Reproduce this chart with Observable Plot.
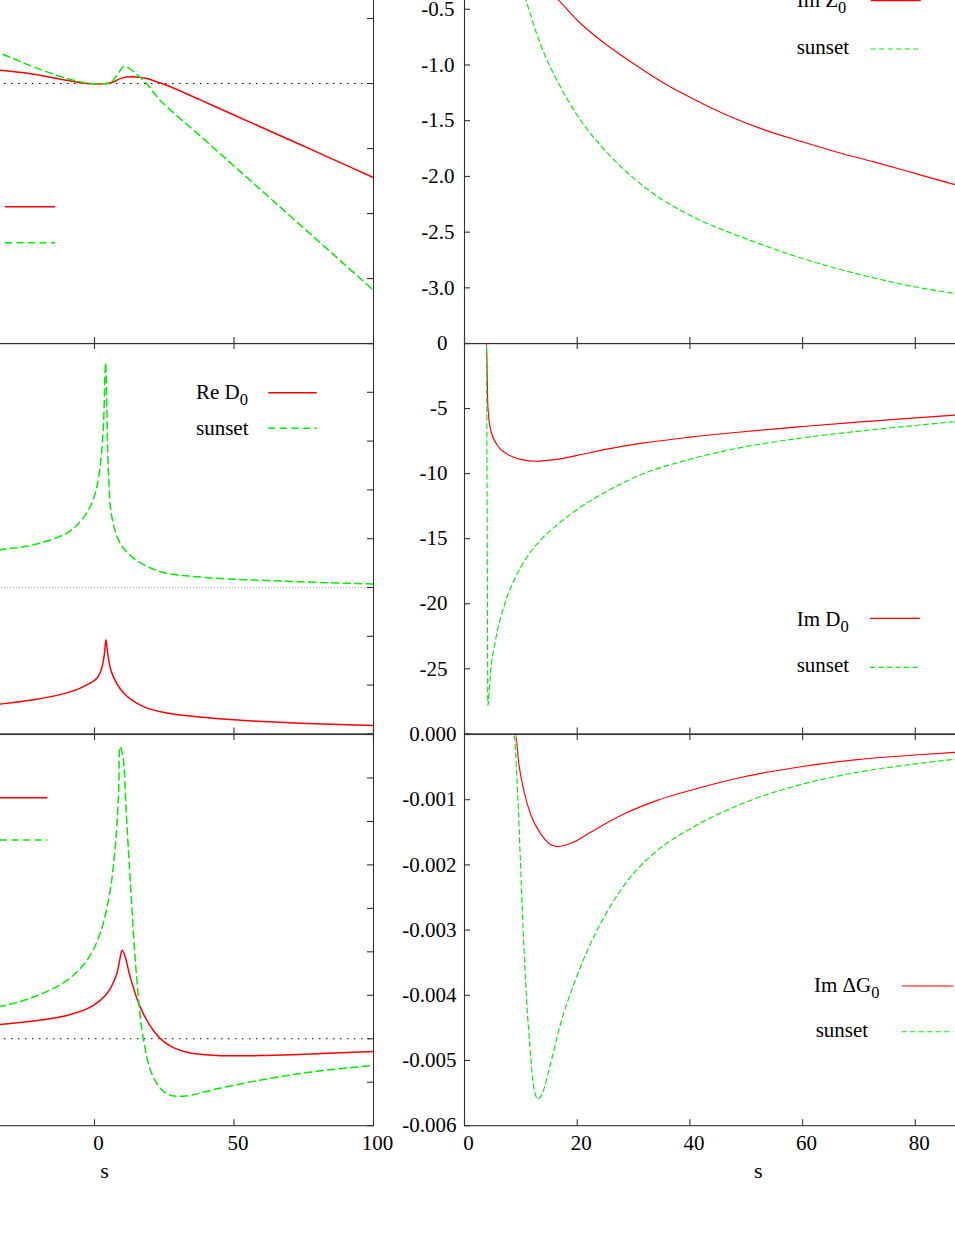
<!DOCTYPE html>
<html><head><meta charset="utf-8">
<script src="https://cdn.jsdelivr.net/npm/d3@7"></script>
<script src="https://cdn.jsdelivr.net/npm/@observablehq/plot@0.6"></script>
<style>
html,body{margin:0;padding:0;background:#fff;}
#fig{position:relative;width:955px;height:1236px;overflow:hidden;background:#fff;}
#fig svg{position:absolute;}
</style></head><body><div id="fig"></div>
<script>
// ---------- data ----------
const xAxisTitle = "s";
// Row 1 left: Re Z0 and sunset
const reZ0S = [-100, -66, -33.8, -21.9, -9.9, -2.7, 4.4, 6.8, 9.2, 11.6, 15.2, 18.8, 22.4, 25.9, 37.9, 50, 61.8, 73.7, 85.7, 100];
const reZ0V = [0.26, 0.18, 0.102, 0.072, 0.025, 0, 0, 0.012, 0.038, 0.051, 0.051, 0.038, 0.012, -0.013, -0.126, -0.242, -0.355, -0.469, -0.585, -0.723];
const reZ0SunS = [-100, -66, -33.8, -21.9, -9.9, -5.1, -1.5, 4.4, 5.6, 8.0, 10.4, 12.2, 15.2, 18.8, 23.5, 37.9, 50.1, 61.8, 73.7, 85.7, 100];
const reZ0SunV = [0.65, 0.45, 0.231, 0.128, 0.038, 0.013, 0, 0, 0.005, 0.06, 0.13, 0.12, 0.07, -0.003, -0.128, -0.403, -0.636, -0.859, -1.087, -1.316, -1.59];
// Row 1 right: Im Z0 and sunset
const imZ0S = [0, 3.9, 8, 11.5, 14.2, 16.7, 20, 24.9, 30.2, 35.4, 40, 46.6, 53.1, 60, 66.3, 72.8, 80.1, 87.1, 100];
const imZ0V = [0, 0, -0.03, -0.16, -0.29, -0.419, -0.599, -0.808, -0.995, -1.165, -1.29, -1.451, -1.58, -1.69, -1.785, -1.872, -1.975, -2.075, -2.22];
const imZ0SunS = [0, 3.9, 7, 9, 10.1, 11.1, 12.4, 14.4, 16.4, 20, 23.6, 27.5, 33.5, 40, 49.9, 60, 69.5, 80.1, 87.1, 100];
const imZ0SunV = [0, 0, -0.03, -0.17, -0.29, -0.449, -0.659, -0.928, -1.137, -1.451, -1.691, -1.90, -2.154, -2.349, -2.558, -2.737, -2.872, -2.992, -3.051, -3.15];
// Row 2 left: Re D0 and sunset
const reD0S = [-100, -66, -33.8, -21.9, -9.9, -3.9, 0.86, 2.6, 3.6, 4.1, 4.7, 6.2, 10.4, 17.6, 25.9, 49.8, 73.7, 100];
const reD0V = [-26.8, -25.8, -23.9, -23.0, -21.6, -20.3, -18.6, -16.5, -13.4, -10.7, -13.4, -17.5, -21.6, -24.4, -25.7, -27.1, -27.8, -28.3];
const reD0SunS = [-100, -66, -33.8, -21.9, -9.9, -5.1, -1.5, 0.86, 2.4, 3.24, 3.96, 4.4, 5.0, 6.2, 9.2, 14.0, 23.5, 37.9, 61.8, 100];
const reD0SunV = [4.3, 5.5, 7.73, 8.75, 11.15, 13.52, 16.6, 20.7, 26.8, 33.7, 46.0, 37.1, 23.4, 14.5, 9.1, 6.0, 3.28, 2.13, 1.43, 0.7];
// Row 2 right: Im D0 and sunset
const imD0S = [0, 3.9, 4.02, 4.14, 4.61, 5.8, 7.57, 9.94, 12.9, 16.4, 20, 25.3, 31.2, 40, 49, 60, 69.7, 80, 87.1, 100];
const imD0V = [0, 0, -2.3, -4.8, -6.6, -7.8, -8.5, -8.9, -9.05, -8.9, -8.6, -8.12, -7.68, -7.2, -6.8, -6.38, -6.04, -5.72, -5.5, -5.15];
const imD0SunS = [0, 3.9, 3.98, 4.06, 4.14, 4.61, 5.5, 7.0, 8.8, 11.1, 13.5, 16.4, 20, 25.3, 31.2, 40, 49, 60, 69.7, 80, 87.1, 100];
const imD0SunV = [0, 0, -9, -18.5, -27.8, -25.3, -22.8, -20.2, -18.2, -16.4, -15.1, -13.95, -12.75, -11.35, -10.1, -8.9, -8.0, -7.25, -6.75, -6.3, -6.0, -5.6];
// Row 3 left: Re ΔG0 and sunset
const reG0S = [-100, -66, -33.8, -21.9, -9.9, -1.5, 4.4, 8.0, 9.0, 9.9, 11.0, 12.8, 16.4, 21.1, 25.9, 33.1, 43.9, 61.8, 79.7, 100];
const reG0V = [0.13, 0.2, 0.33, 0.406, 0.537, 0.728, 1.037, 1.498, 1.804, 2.035, 1.88, 1.419, 0.728, 0.191, -0.115, -0.309, -0.385, -0.385, -0.346, -0.293];
const reG0SunS = [-100, -66, -33.8, -21.9, -9.9, -2.7, 2.0, 5.6, 7.4, 8.6, 9.2, 10.2, 11.4, 12.8, 15.2, 17.6, 21.1, 25.9, 31.9, 43.9, 61.8, 79.7, 100];
const reG0SunV = [0.32, 0.45, 0.744, 0.959, 1.343, 1.804, 2.419, 3.41, 4.41, 5.57, 6.72, 6.49, 5.18, 3.65, 1.34, -0.04, -0.885, -1.267, -1.32, -1.152, -0.922, -0.747, -0.615];
// Row 3 right: Im ΔG0 and sunset
const imG0S = [0, 9.05, 9.64, 10.53, 11.71, 13.49, 16.45, 19.4, 22.36, 28.27, 34.2, 40, 49, 60, 69.7, 80, 87.1, 100];
const imG0V = [0, 0, -0.00045, -0.00086, -0.00122, -0.00152, -0.00172, -0.00165, -0.0015, -0.00122, -0.00101, -0.00086, -0.00066, -0.00049, -0.000385, -0.000315, -0.000275, -0.00023];
const imG0SunS = [0, 8.75, 9.46, 9.94, 10.41, 11.0, 11.71, 12.3, 13.0, 13.78, 15.26, 17.04, 19.4, 22.36, 25.3, 28.87, 34.2, 40, 49, 60, 69.7, 80, 87.1, 100];
const imG0SunV = [0, 0, -0.00096, -0.00198, -0.00301, -0.00403, -0.0049, -0.00541, -0.00559, -0.00551, -0.00505, -0.00444, -0.00383, -0.00321, -0.00272, -0.00225, -0.00178, -0.00145, -0.00107, -0.00076, -0.00058, -0.00045, -0.00038, -0.0003];

// tick values
const xTicksLeft = [-100, -50, 0, 50, 100];
const xTicksRight = [0, 20, 40, 60, 80, 100];
const xLabelsLeft = [0, 50, 100];
const xLabelsRight = [0, 20, 40, 60, 80];
const yTicksZre = [-2, -1.5, -1, -0.5, 0, 0.5, 1];
const yTicksZim = [-3.5, -3, -2.5, -2, -1.5, -1, -0.5, 0];
const yLabelsZim = [-0.5, -1, -1.5, -2, -2.5, -3];
const yTicksDre = [-30, -20, -10, 0, 10, 20, 30, 40, 50];
const yTicksDim = [-30, -25, -20, -15, -10, -5, 0];
const yLabelsDim = [0, -5, -10, -15, -20, -25];
const yTicksGre = [-2, -1, 0, 1, 2, 3, 4, 5, 6, 7];
const yTicksGim = [-0.006, -0.005, -0.004, -0.003, -0.002, -0.001, 0];
const yLabelsGim = [0, -0.001, -0.002, -0.003, -0.004, -0.005, -0.006];

// ---------- layout / style ----------
const RED = "#ff0000", GREEN = "#00ee00", AXIS = "#333";
const FONT = '"Liberation Serif", "DejaVu Serif", serif';
const rows = [{y0: -46.7, ih: 390.1}, {y0: 343.4, ih: 390.4}, {y0: 733.8, ih: 391.2}];
const cols = [
  {x0: -184.7, iw: 558, mL: 5, mR: 45, xDomain: [-100, 100], xTicks: xTicksLeft, xLabels: xLabelsLeft, sw: 1.5, dash: "7,4.5", sdx: 10, curve: "catmull-rom"},
  {x0: 464, iw: 563.5, mL: 90, mR: 10, xDomain: [0, 100], xTicks: xTicksRight, xLabels: xLabelsRight, sw: 1.15, dash: "5,3.5", sdx: 12, curve: "monotone-x"}
];
const fig = document.getElementById("fig");
const toRows = (s, v) => s.map((x, i) => ({s: x, v: v[i]}));

function drawPanel(p) {
  const C = cols[p.col], R = rows[p.row];
  const mT = 10, mB = p.row === 2 ? 80 : 10;
  const marks = [];
  if (p.zero) marks.push(Plot.ruleY([0], {stroke: p.zero.stroke, strokeDasharray: p.zero.dash, strokeWidth: 1}));
  for (const sr of p.series) {
    const o = {x: "s", y: "v", stroke: sr.color, strokeWidth: C.sw, curve: C.curve, clip: true};
    if (sr.dashed) o.strokeDasharray = C.dash;
    marks.push(Plot.line(toRows(sr.s, sr.v), o));
  }
  marks.push(Plot.frame({stroke: AXIS, strokeWidth: 1.1}));
  marks.push(Plot.tickX(C.xTicks, {insetTop: R.ih - 6, stroke: AXIS, strokeWidth: 1.1}));
  marks.push(Plot.tickX(C.xTicks, {insetBottom: R.ih - 6, stroke: AXIS, strokeWidth: 1.1}));
  marks.push(Plot.tickY(p.yTicks, {insetRight: C.iw - 6, stroke: AXIS, strokeWidth: 1.1}));
  marks.push(Plot.tickY(p.yTicks, {insetLeft: C.iw - 6, stroke: AXIS, strokeWidth: 1.1}));
  if (p.yLabels) marks.push(Plot.axisY(p.yLabels, {anchor: "left", tickSize: 0, tickPadding: p.yPad, tickFormat: p.yFmt, label: null}));
  if (p.row === 2) {
    marks.push(Plot.axisX(C.xLabels, {anchor: "bottom", tickSize: 0, tickPadding: 9, dx: 4, tickFormat: d => String(d), label: null}));
    marks.push(Plot.text([xAxisTitle], {frameAnchor: "bottom", dy: 52, dx: C.sdx, fontSize: 22}));
  }
  const svg = Plot.plot({
    width: C.mL + C.iw + C.mR, height: mT + R.ih + mB,
    marginLeft: C.mL, marginRight: C.mR, marginTop: mT, marginBottom: mB,
    x: {domain: C.xDomain, axis: null}, y: {domain: p.yDomain, axis: null},
    style: {background: "transparent", fontFamily: FONT, fontSize: "21px", overflow: "visible", maxWidth: "none", color: "black"},
    marks
  });
  svg.style.position = "absolute";
  svg.style.left = (C.x0 - C.mL) + "px";
  svg.style.top = (R.y0 - mT) + "px";
  fig.appendChild(svg);
}

const f1 = d => d.toFixed(1), f0 = d => String(d), f3 = d => d.toFixed(3);
drawPanel({col: 0, row: 0, yDomain: [-2, 1], yTicks: yTicksZre, zero: {stroke: "black", dash: "1.5,5.5"},
  series: [{s: reZ0S, v: reZ0V, color: RED}, {s: reZ0SunS, v: reZ0SunV, color: GREEN, dashed: true}]});
drawPanel({col: 1, row: 0, yDomain: [-3.5, 0], yTicks: yTicksZim, yLabels: yLabelsZim, yFmt: f1, yPad: 10,
  series: [{s: imZ0S, v: imZ0V, color: RED}, {s: imZ0SunS, v: imZ0SunV, color: GREEN, dashed: true}]});
drawPanel({col: 0, row: 1, yDomain: [-30, 50], yTicks: yTicksDre, zero: {stroke: "#aaa", dash: "1,2"},
  series: [{s: reD0S, v: reD0V, color: RED}, {s: reD0SunS, v: reD0SunV, color: GREEN, dashed: true}]});
drawPanel({col: 1, row: 1, yDomain: [-30, 0], yTicks: yTicksDim, yLabels: yLabelsDim, yFmt: f0, yPad: 17,
  series: [{s: imD0S, v: imD0V, color: RED}, {s: imD0SunS, v: imD0SunV, color: GREEN, dashed: true}]});
drawPanel({col: 0, row: 2, yDomain: [-2, 7], yTicks: yTicksGre, zero: {stroke: "black", dash: "1.5,5.5"},
  series: [{s: reG0S, v: reG0V, color: RED}, {s: reG0SunS, v: reG0SunV, color: GREEN, dashed: true}]});
drawPanel({col: 1, row: 2, yDomain: [-0.006, 0], yTicks: yTicksGim, yLabels: yLabelsGim, yFmt: f3, yPad: 8,
  series: [{s: imG0S, v: imG0V, color: RED}, {s: imG0SunS, v: imG0SunV, color: GREEN, dashed: true}]});

// ---------- legends ----------
const lg = d3.select(fig).append("svg").attr("width", 955).attr("height", 1236)
  .style("left", "0px").style("top", "0px").style("font-family", FONT).style("font-size", "21px");
function entry(tx, base, label, sub, lx1, lx2, ly, color, dashed, sw) {
  if (label) {
    const t = lg.append("text").attr("x", tx).attr("y", base).attr("fill", "black");
    t.append("tspan").text(label);
    if (sub) t.append("tspan").attr("dy", 6).style("font-size", "16.5px").text(sub);
  }
  lg.append("line").attr("x1", lx1).attr("x2", lx2).attr("y1", ly).attr("y2", ly)
    .attr("stroke", color).attr("stroke-width", sw).attr("stroke-dasharray", dashed ? (sw > 1.3 ? "7,4.5" : "5,3.5") : null);
}
entry(796.7, 7, "Im Z", "0", 870.7, 920.7, 0.6, RED, false, 1.15);
entry(796.7, 53.5, "sunset", null, 870.7, 920.7, 49, GREEN, true, 1.15);
entry(796.7, 626, "Im D", "0", 870, 920, 618.3, RED, false, 1.15);
entry(796.7, 672.3, "sunset", null, 870, 920, 667.3, GREEN, true, 1.15);
entry(814, 991.7, "Im \u0394G", "0", 901.7, 953.3, 986, RED, false, 1.15);
entry(815.7, 1037, "sunset", null, 901.7, 953.3, 1031.7, GREEN, true, 1.15);
entry(196, 399.3, "Re D", "0", 268.3, 316.7, 392.7, RED, false, 1.5);
entry(196, 435, "sunset", null, 268.3, 316.7, 428.3, GREEN, true, 1.5);
entry(0, 0, null, null, 5, 55, 206.7, RED, false, 1.5);
entry(0, 0, null, null, 5, 55, 242.7, GREEN, true, 1.5);
entry(0, 0, null, null, 0, 47.3, 797.7, RED, false, 1.5);
entry(0, 0, null, null, 0, 47.3, 840, GREEN, true, 1.5);
</script></body></html>
